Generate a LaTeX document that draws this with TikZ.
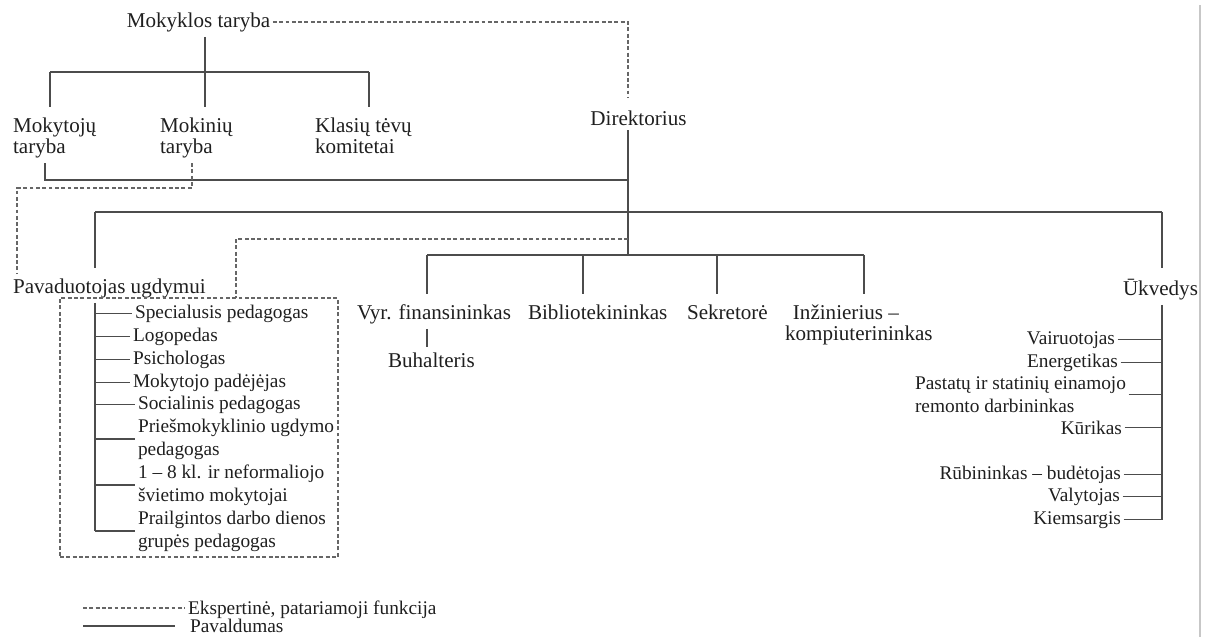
\documentclass[tikz,border=0pt]{standalone}
\usepackage{fontspec}
\setmainfont{Liberation Serif}
\usepackage{tikz}
\usetikzlibrary{positioning}
\tikzstyle{nodoTxt} = [inner sep=0pt, outer xsep=1.5pt, outer ysep=3pt, text=black!88, font=\fontsize{12}{11.9}\selectfont]
\tikzstyle{nodoTxtL} = [nodoTxt, align=left]
\tikzstyle{nodoItem} = [inner sep=0pt, outer xsep=1.5pt, outer ysep=3pt, text=black!88, font=\fontsize{11}{13}\selectfont]
\tikzstyle{nodoItemL} = [nodoItem, align=left]
\tikzstyle{lineaSub} = [draw=black!70, line width=0.8pt]
\tikzstyle{lineaTick} = [lineaSub, shorten >=3pt]
\tikzstyle{lineaAdv} = [draw=black!60, line width=0.7pt, dash pattern=on 2.2pt off 1.4pt]
\tikzstyle{grupeBox} = [rectangle, minimum width=5.56cm, minimum height=5.18cm, inner sep=0pt, outer sep=0pt]

\begin{document}
\begin{tikzpicture}[x=0.02cm, y=-0.02cm]
    \useasboundingbox (0,0) rectangle (1208,637);

    \node (council) [nodoTxt, anchor=base] at (198.5,27) {Mokyklos taryba};
    \node (teachers) [nodoTxtL, anchor=north west] at (10.4,112.5) {Mokytojų\\taryba};
    \node (students) [nodoTxtL, anchor=north west] at (157.4,112.5) {Mokinių\\taryba};
    \node (parents) [nodoTxtL, anchor=north west] at (312.4,112.5) {Klasių tėvų\\komitetai};
    \node (director) [nodoTxt, anchor=base] at (638.5,125) {Direktorius};

    \node (deputy) [nodoTxt, anchor=base west] at (10.4,293) {Pavaduotojas ugdymui};
    \node (supply) [nodoTxt, anchor=base east] at (1200.6,295) {Ūkvedys};

    \node (finance) [nodoTxt, anchor=base west] at (354.4,319) {Vyr. finansininkas};
    \node (library) [nodoTxt, anchor=base west] at (525.4,319) {Bibliotekininkas};
    \node (secretary) [nodoTxt, anchor=base west] at (684.4,319) {Sekretorė};
    \node (engineer) [nodoTxtL, anchor=north west] at (782.4,299.2) {\hspace*{4.5pt}Inžinierius –\\kompiuterininkas};
    \node (accountant) [nodoTxt, anchor=base west] at (385.4,367) {Buhalteris};

    \node (staff) [grupeBox, lineaAdv] at (199,427.5) {};
    \node (spec) [nodoItem, anchor=base west] at (132.4,318) {Specialusis pedagogas};
    \node (logo) [nodoItem, anchor=base west] at (130.4,341) {Logopedas};
    \node (psych) [nodoItem, anchor=base west] at (130.4,364) {Psichologas};
    \node (assist) [nodoItem, anchor=base west] at (130.4,387) {Mokytojo padėjėjas};
    \node (social) [nodoItem, anchor=base west] at (135.4,409) {Socialinis pedagogas};
    \node (preschool) [nodoItemL, anchor=north west] at (135.4,413.5) {Priešmokyklinio ugdymo\\pedagogas};
    \node (teachersK) [nodoItemL, anchor=north west] at (135.4,459.5) {1 – 8 kl. ir neformaliojo\\švietimo mokytojai};
    \node (extended) [nodoItemL, anchor=north west] at (135.4,505.5) {Prailgintos darbo dienos\\grupės pedagogas};

    \node (driver) [nodoItem, anchor=base east] at (1117.6,344) {Vairuotojas};
    \node (energy) [nodoItem, anchor=base east] at (1120.6,367) {Energetikas};
    \node (repair) [nodoItemL, anchor=north west] at (912.4,371.5) {Pastatų ir statinių einamojo\\remonto darbininkas};
    \node (stoker) [nodoItem, anchor=base east] at (1124.6,434) {Kūrikas};
    \node (cloak) [nodoItem, anchor=base east] at (1123.6,479) {Rūbininkas – budėtojas};
    \node (cleaner) [nodoItem, anchor=base east] at (1122.6,501) {Valytojas};
    \node (yard) [nodoItem, anchor=base east] at (1123.6,524) {Kiemsargis};

    \node (legAdv) [nodoItem, anchor=base west] at (185.4,614) {Ekspertinė, patariamoji funkcija};
    \node (legSub) [nodoItem, anchor=base west] at (187.4,632) {Pavaldumas};

    \coordinate (topL) at (50,72);
    \coordinate (topM) at (205,72);
    \coordinate (topR) at (369,72);
    \coordinate (midL) at (45,180);
    \coordinate (dirX) at (628,180);
    \coordinate (longL) at (95,212);
    \coordinate (longR) at (1162,212);
    \coordinate (dashJ) at (628,239);
    \coordinate (dashB) at (236,239);
    \coordinate (lowL) at (427,255);
    \coordinate (libX) at (583,255);
    \coordinate (secX) at (717,255);
    \coordinate (lowR) at (864,255);
    \coordinate (dashS) at (192,188);
    \coordinate (dashT) at (17,188);
    \coordinate (keyA) at (83,608);
    \coordinate (keyB) at (83,626);
    \coordinate (keyBe) at (175,626);
    \coordinate (edgeTop) at (1200,5);
    \coordinate (edgeBot) at (1200,637);

    \draw[lineaSub] (council.south -| topM) -- (topM);
    \draw[lineaSub] (topL) -- (topR);
    \draw[lineaTick] (topL) -- (topL |- teachers.north);
    \draw[lineaTick] (topM) -- (topM |- students.north);
    \draw[lineaTick] (topR) -- (topR |- parents.north);
    \draw[lineaAdv, shorten >=4pt] (council.east) -| (director.north -| dirX);

    \draw[lineaSub] (midL |- teachers.south) -- (midL) -- (dirX);
    \draw[lineaAdv] (dashS |- students.south) -- (dashS) -- (dashT) -- (dashT |- deputy.north);
    \draw[lineaSub] (director.south -| dirX) -- (dirX |- lowL);

    \draw[lineaSub] (longL) -- (longR);
    \draw[lineaTick] (longL) -- (longL |- deputy.north);
    \draw[lineaTick] (longR) -- (longR |- supply.north);
    \draw[lineaAdv] (dashJ) -- (dashB) -- (dashB |- staff.north);

    \draw[lineaSub] (lowL) -- (lowR);
    \draw[lineaTick] (lowL) -- (lowL |- finance.north);
    \draw[lineaTick] (libX) -- (libX |- library.north);
    \draw[lineaTick] (secX) -- (secX |- secretary.north);
    \draw[lineaTick] (lowR) -- (lowR |- engineer.north);
    \draw[lineaSub] (lowL |- finance.south) -- (lowL |- accountant.north);

    \draw[lineaSub] (longL |- deputy.south) -- (longL |- extended.west);
    \draw[lineaSub] (longL |- spec.west) -- (spec.west);
    \draw[lineaSub] (longL |- logo.west) -- (logo.west);
    \draw[lineaSub] (longL |- psych.west) -- (psych.west);
    \draw[lineaSub] (longL |- assist.west) -- (assist.west);
    \draw[lineaSub] (longL |- social.west) -- (social.west);
    \draw[lineaSub] (longL |- preschool.west) -- (preschool.west);
    \draw[lineaSub] (longL |- teachersK.west) -- (teachersK.west);
    \draw[lineaSub] (longL |- extended.west) -- (extended.west);

    \draw[lineaSub] (longR |- supply.south) -- (longR |- yard.east);
    \draw[lineaSub] (driver.east) -- (longR |- driver.east);
    \draw[lineaSub] (energy.east) -- (longR |- energy.east);
    \draw[lineaSub] (repair.east) -- (longR |- repair.east);
    \draw[lineaSub] (stoker.east) -- (longR |- stoker.east);
    \draw[lineaSub] (cloak.east) -- (longR |- cloak.east);
    \draw[lineaSub] (cleaner.east) -- (longR |- cleaner.east);
    \draw[lineaSub] (yard.east) -- (longR |- yard.east);

    \draw[lineaAdv] (keyA) -- (keyA -| legAdv.west);
    \draw[lineaSub] (keyB) -- (keyBe);
    \draw[black!22, line width=1pt] (edgeTop) -- (edgeBot);
\end{tikzpicture}
\end{document}
